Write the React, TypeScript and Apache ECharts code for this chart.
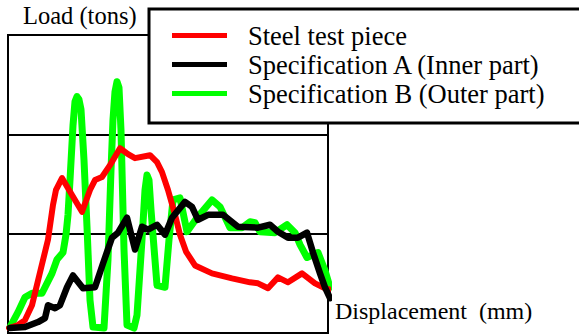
import React, { useEffect, useRef } from "react";
import * as echarts from "echarts";

// Displacement (arbitrary units, 0..320 spans the plot width) and load (tons)
const steelX = [1, 10, 17, 24, 32, 40, 45, 48, 54, 64, 74, 82, 87, 94, 102, 112, 120, 127, 142, 149, 154, 160, 167, 172, 178, 187, 204, 224, 242, 250, 260, 270, 280, 294, 307, 317, 325];
const steelY = [0.05, 0.08, 0.13, 0.28, 0.61, 0.94, 1.29, 1.44, 1.56, 1.39, 1.22, 1.44, 1.54, 1.57, 1.69, 1.86, 1.8, 1.76, 1.79, 1.72, 1.62, 1.44, 1.19, 0.99, 0.82, 0.68, 0.6, 0.55, 0.51, 0.5, 0.45, 0.56, 0.51, 0.6, 0.5, 0.45, 0.43];

const specAX = [2, 17, 30, 37, 40, 47, 52, 59, 65, 75, 87, 95, 104, 110, 119, 127, 134, 140, 149, 157, 164, 177, 184, 190, 200, 215, 230, 250, 262, 270, 280, 290, 299, 305, 312, 317, 322];
const specAY = [0.05, 0.06, 0.11, 0.15, 0.28, 0.25, 0.28, 0.46, 0.58, 0.45, 0.46, 0.7, 0.96, 1.01, 1.16, 0.84, 1.07, 1.04, 1.09, 0.99, 1.16, 1.32, 1.27, 1.14, 1.19, 1.19, 1.07, 1.06, 1.09, 1.02, 0.96, 0.96, 1.01, 0.81, 0.6, 0.46, 0.35];

const specBX = [2, 10, 17, 24, 34, 44, 49, 55, 58, 60, 62, 65, 67, 69, 71, 73, 76, 79, 82, 85, 96, 100, 103, 105, 107, 109, 111, 113, 116, 119, 126, 129, 134, 137, 139, 141, 143, 149, 157, 161, 165, 172, 179, 189, 204, 212, 222, 234, 242, 247, 252, 267, 279, 287, 292, 299, 310, 317, 322];
const specBY = [0.06, 0.21, 0.36, 0.4, 0.4, 0.6, 0.74, 0.81, 0.99, 1.19, 1.54, 2.09, 2.33, 2.38, 2.35, 2.25, 1.74, 1.07, 0.33, 0.06, 0.05, 0.74, 1.64, 2.15, 2.43, 2.53, 2.47, 2.04, 0.84, 0.08, 0.05, 0.18, 0.94, 1.44, 1.59, 1.54, 1.24, 0.48, 0.46, 0.94, 1.34, 1.36, 1.02, 1.16, 1.34, 1.27, 1.06, 1.06, 1.12, 1.11, 1.02, 1.01, 1.09, 1.01, 0.89, 0.76, 0.81, 0.63, 0.46];

const seriesNames = ["Steel test piece", "Specification A (Inner part)", "Specification B (Outer part)"];
const yTicks = [0, 1, 2, 3];
const yTitle = "Load (tons)";
const xTitle = "Displacement\u2002(mm)";

const FONT = "Liberation Serif";

const pairs = (xs: number[], ys: number[]) => xs.map((x, i) => [x, ys[i]]);

export default function App() {
  const ref = useRef<HTMLDivElement>(null);
  useEffect(() => {
    if (!ref.current) return;
    const chart = echarts.init(ref.current, null, { renderer: "svg" });
    const lineBase = (color: string, width: number, z: number) => ({
      type: "line" as const,
      showSymbol: false,
      symbol: "none",
      clip: false,
      z,
      itemStyle: { color },
      lineStyle: { color, width, cap: "round", join: "round" },
    });
    chart.setOption({
      animation: false,
      backgroundColor: "#fff",
      title: {
        text: yTitle,
        left: 23,
        top: 3,
        padding: 0,
        textStyle: { fontFamily: FONT, fontSize: 24.5, fontWeight: "normal", color: "#000" },
      },
      legend: {
        orient: "vertical",
        left: 149,
        top: 9,
        z: 10,
        backgroundColor: "#fff",
        borderColor: "#000",
        borderWidth: 3,
        borderRadius: 0,
        padding: [13, 40, 16, 23],
        itemWidth: 55,
        itemHeight: 5,
        itemGap: 2,
        icon: "rect",
        textStyle: { fontFamily: FONT, fontSize: 26.5, color: "#000", lineHeight: 27, padding: [0, 0, 0, 16] },
        data: seriesNames,
      },
      grid: {
        left: 8,
        top: 35,
        width: 320,
        height: 298,
        show: true,
        borderColor: "#000",
        borderWidth: 2,
        backgroundColor: "transparent",
      },
      xAxis: {
        type: "value",
        min: 0,
        max: 320,
        axisLine: { show: false },
        axisTick: { show: false },
        axisLabel: { show: false },
        splitLine: { show: false },
      },
      yAxis: {
        type: "value",
        min: yTicks[0],
        max: yTicks[yTicks.length - 1],
        interval: 1,
        axisLine: { show: false },
        axisTick: { show: false },
        axisLabel: { show: false },
        splitLine: { show: true, lineStyle: { color: "#000", width: 2 } },
      },
      graphic: [
        {
          type: "text",
          left: 335,
          top: 299,
          style: { text: xTitle, fontFamily: FONT, fontSize: 24, fill: "#000" },
        },
      ],
      series: [
        { ...lineBase("#ff0000", 6, 3), name: seriesNames[0], data: pairs(steelX, steelY) },
        { ...lineBase("#000000", 6.5, 4), name: seriesNames[1], data: pairs(specAX, specAY) },
        { ...lineBase("#00ff00", 7, 2), name: seriesNames[2], data: pairs(specBX, specBY) },
      ],
    });
    return () => chart.dispose();
  }, []);
  return (
    <div
      ref={ref}
      style={{ position: "fixed", left: 0, top: 0, width: 579, height: 335 }}
    />
  );
}
